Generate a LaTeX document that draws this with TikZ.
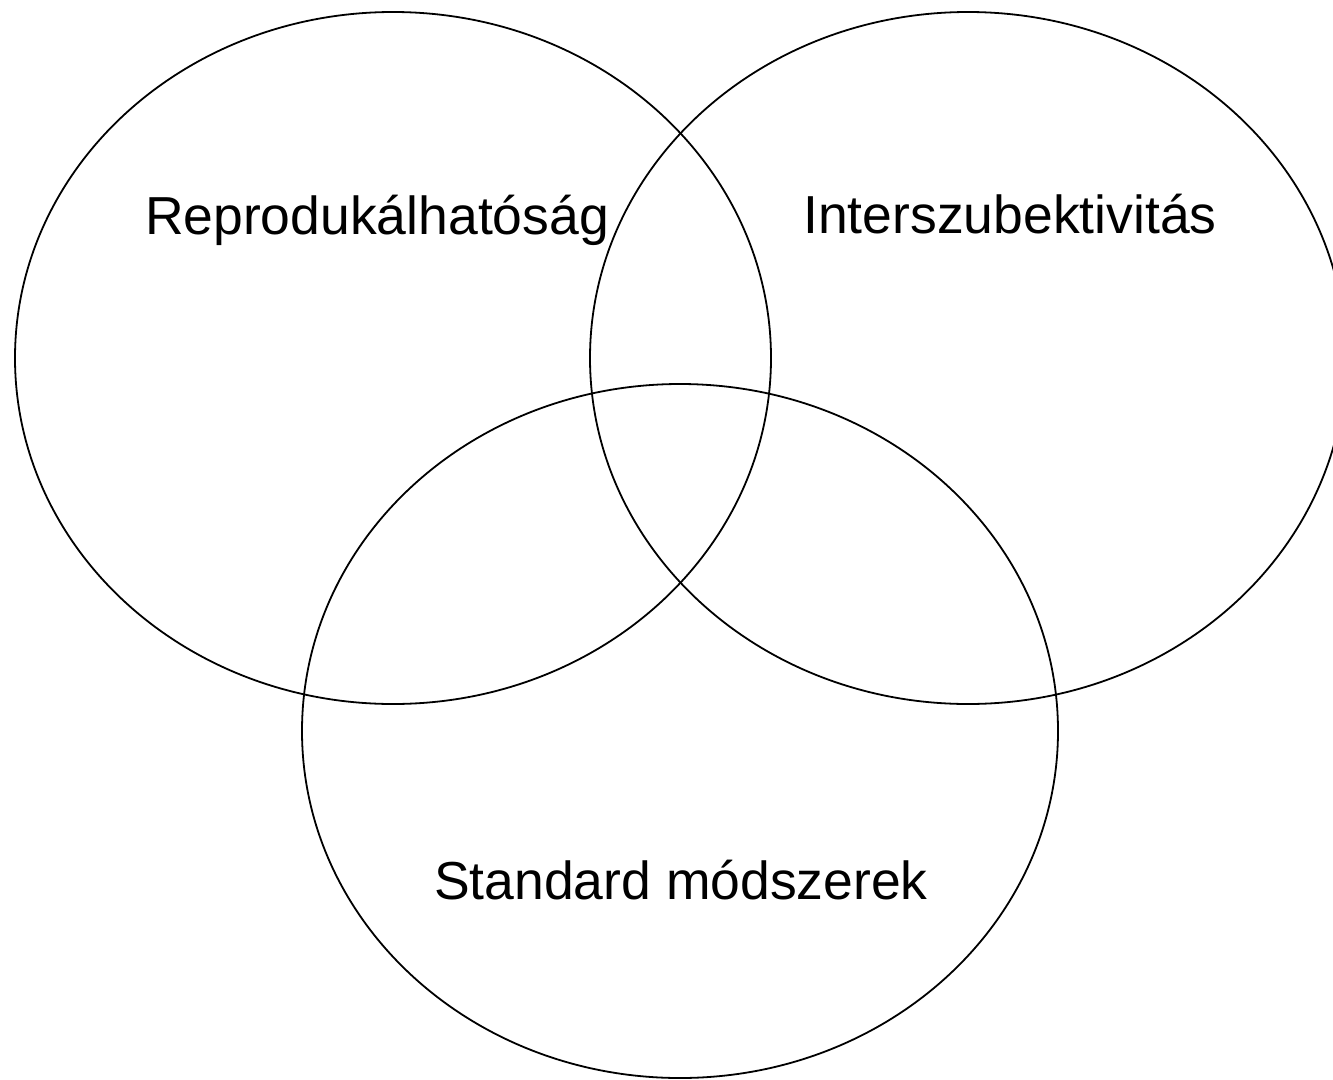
\documentclass[tikz,border=0pt]{standalone}
\usepackage{fontspec}
\setmainfont{Liberation Sans}
\usepackage{tikz}

\begin{document}
\begin{tikzpicture}[x=1pt, y=-1pt,
  venn/.style={draw=black, line width=1.8pt},
  setlabel/.style={anchor=base, inner sep=0pt, font=\fontsize{53.5}{64}\selectfont}]

  \useasboundingbox (0,0) rectangle (1333,1079);

  % centres of the three sets
  \coordinate (repro) at (393,358);
  \coordinate (inter) at (968,358);
  \coordinate (stand) at (680,731);

  \draw [venn] (repro) ellipse [x radius=378, y radius=346];
  \draw [venn] (inter) ellipse [x radius=378, y radius=346];
  \draw [venn] (stand) ellipse [x radius=378, y radius=347];

  \node [setlabel] (reprolabel) at (377,234) {Reprodukálhatóság};
  \node [setlabel] (interlabel) at (1010,233) {Interszubektivitás};
  \node [setlabel] (standlabel) at (681,899) {Standard módszerek};
\end{tikzpicture}
\end{document}
